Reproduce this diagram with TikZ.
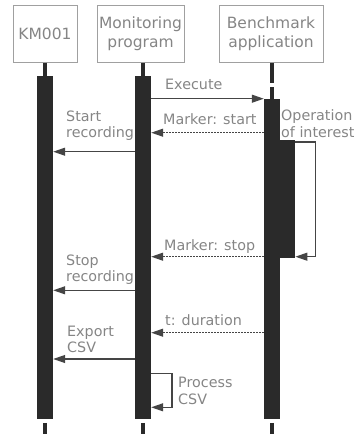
\documentclass[tikz,border=0pt]{standalone}
\usepackage{fontspec}
\setmainfont{DejaVu Sans}
\usetikzlibrary{arrows.meta,calc}
\definecolor{barc}{HTML}{2A2A2A}
\definecolor{txtc}{HTML}{858585}
\definecolor{lnc}{HTML}{454545}
\definecolor{bxc}{HTML}{A0A0A0}
\begin{document}
\begin{tikzpicture}[x=1pt,y=-1pt,
 hdr/.style={draw=bxc, line width=1pt, text=txtc, font=\fontsize{15.5}{19}\selectfont, align=center, inner sep=0pt, minimum height=57pt},
 actbar/.style={fill=barc, draw=none, inner sep=0pt, minimum width=16pt},
 lbl/.style={text=txtc, font=\fontsize{14.3}{16.5}\selectfont, anchor=base west, inner sep=0pt, align=left},
 msg/.style={draw=lnc, line width=1.2pt, -{Triangle[length=12pt,width=8pt]}},
 ret/.style={msg, dash pattern=on 1.5pt off 1.5pt},
 life/.style={draw=barc, line width=3.5pt}
]
\useasboundingbox (0,0) rectangle (357,437);
% headers
\node[hdr, minimum width=64pt] (km) at (45,33.5) {KM001};
\node[hdr, minimum width=87pt] (mon) at (140.5,33.5) {Monitoring\\program};
\node[hdr, minimum width=104pt] (ben) at (271,33.5) {Benchmark\\application};
% activation bars
\node[actbar, minimum height=343pt, anchor=north] (kbar) at (45,76) {};
\node[actbar, minimum height=343pt, anchor=north] (mbar) at (143,76) {};
\node[actbar, minimum height=320pt, anchor=north] (bbar) at (272,99) {};
\node[actbar, minimum width=15pt, minimum height=118pt, anchor=north west] (nbar) at (280,140) {};
% lifelines
\draw[life] (kbar.north |- km.south) -- (kbar.north);
\draw[life] (mbar.north |- mon.south) -- (mbar.north);
\draw[life] (bbar.north |- ben.south) -- ++(0,20);
\draw[life] ($(bbar.north)+(0,-12)$) -- (bbar.north);
\draw[life] ($(kbar.south)+(0,3.5)$) -- ++(0,11.5);
\draw[life] ($(mbar.south)+(0,3.5)$) -- ++(0,11.5);
\draw[life] ($(bbar.south)+(0,3.5)$) -- ++(0,11.5);
% messages
\draw[msg] (mbar.east |- 0,98.7) -- (bbar.west |- 0,98.7);
\draw[ret] (bbar.west |- 0,132.7) -- (mbar.east |- 0,132.7);
\draw[msg] (mbar.west |- 0,151.7) -- (kbar.east |- 0,151.7);
\draw[msg] (nbar.east |- 0,142) -- (315.5,142) -- (315.5,256.7) -- (nbar.east |- 0,256.7);
\draw[ret] (bbar.west |- 0,256.7) -- (mbar.east |- 0,256.7);
\draw[msg] (mbar.west |- 0,290.3) -- (kbar.east |- 0,290.3);
\draw[ret] (bbar.west |- 0,332.7) -- (mbar.east |- 0,332.7);
\draw[msg] (mbar.west |- 0,359) -- (kbar.east |- 0,359);
\draw[msg] (mbar.east |- 0,373.5) -- (172,373.5) -- (172,407.3) -- (mbar.east |- 0,407.3);
% labels (base = baseline of last line)
\node[lbl] (l1) at (165,89.3) {Execute};
\node[lbl] (l2) at (163,124) {Marker: start};
\node[lbl] (l3) at (66,137.7) {Start\\recording};
\node[lbl] (l4) at (281,137.3) {Operation\\of interest};
\node[lbl] (l5) at (164,250) {Marker: stop};
\node[lbl] (l6) at (66,281.7) {Stop\\recording};
\node[lbl] (l7) at (165,325) {t: duration};
\node[lbl] (l8) at (67,352.7) {Export\\CSV};
\node[lbl] (l9) at (178,404) {Process\\CSV};
\end{tikzpicture}
\end{document}
